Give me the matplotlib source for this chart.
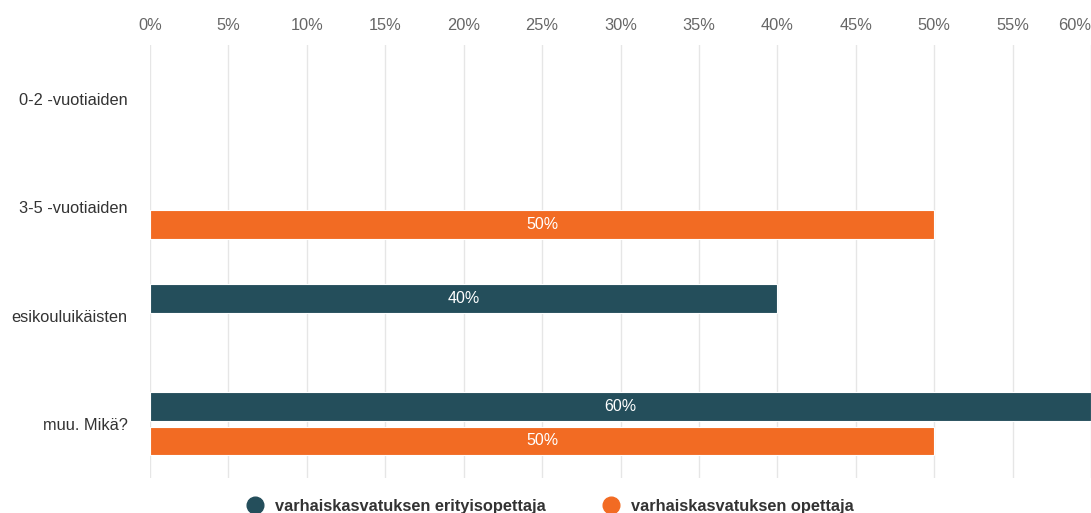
import numpy as np
import matplotlib.pyplot as plt
from matplotlib.lines import Line2D

plt.rcParams['font.family'] = ['Liberation Sans', 'DejaVu Sans']

categories = ['0-2 -vuotiaiden', '3-5 -vuotiaiden', 'esikouluikäisten', 'muu. Mikä?']
series_names = ['varhaiskasvatuksen erityisopettaja', 'varhaiskasvatuksen opettaja']
erityisopettaja = [0, 0, 40, 60]
opettaja = [0, 50, 0, 50]
ticks = list(range(0, 65, 5))

colors = ['#244e5b', '#f26b23']

fig = plt.figure(figsize=(10.91, 5.13), dpi=100)
ax = fig.add_axes([150 / 1091, 1 - 478 / 513, 1 - 150 / 1091, 433 / 513])

y = np.arange(len(categories))
h = 0.265
off = 0.158
for vals, dy, col in [(erityisopettaja, -off, colors[0]), (opettaja, off, colors[1])]:
    for yi, v in zip(y, vals):
        if v <= 0:
            continue
        ax.barh(yi + dy, v, height=h, color=col, edgecolor='white', linewidth=0.8, zorder=3)
        ax.text(v / 2, yi + dy, f'{v}%', color='white', ha='center', va='center',
                fontsize=11.5, zorder=4)

ax.set_xlim(0, 60)
ax.set_ylim(len(categories) - 0.5, -0.5)
ax.set_yticks(y)
ax.set_yticklabels(categories, fontsize=11.8, color='#333333')
ax.set_xticks(ticks)
ax.set_xticklabels([f'{t}%' for t in ticks], fontsize=11.8, color='#666666')
ax.xaxis.tick_top()
ax.tick_params(axis='both', length=0)
ax.tick_params(axis='x', pad=9)
ax.tick_params(axis='y', pad=16)
ax.get_xticklabels()[-1].set_horizontalalignment('right')
for s in ax.spines.values():
    s.set_visible(False)
ax.grid(axis='x', color='#e6e6e6', linewidth=1, zorder=0)
ax.axvline(0, color='#ccd6eb', linewidth=1.2, zorder=1)

handles = [Line2D([], [], marker='o', linestyle='none', markersize=12, color=c) for c in colors]
leg = fig.legend(handles, series_names, loc='center', ncol=2, frameon=False,
                 bbox_to_anchor=(546 / 1091, 1 - 506 / 513), columnspacing=3.0,
                 handletextpad=0.2, prop={'size': 11.8, 'weight': 'bold'})
for t in leg.get_texts():
    t.set_color('#333333')

fig.savefig('out.png', dpi=100)
